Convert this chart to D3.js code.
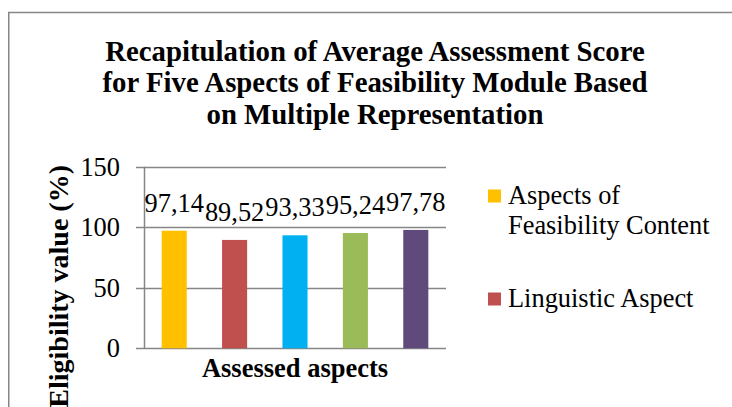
<!DOCTYPE html>
<html>
<head>
<meta charset="utf-8">
<script src="https://cdn.jsdelivr.net/npm/d3@7"></script>
<style>
  body { margin: 0; background: #fff; }
  svg { display: block; }
</style>
</head>
<body>
<script>
// data
var seriesNames = ["Aspects of Feasibility Content", "Linguistic Aspect", "Aspect 3", "Aspect 4", "Aspect 5"];
var seriesValues = [97.14, 89.52, 93.33, 95.24, 97.78];
var seriesColors = ["#FFC000", "#C0504D", "#00B0F0", "#9BBB59", "#604A7B"];
var yTicks = [0, 50, 100, 150];
var titleLines = ["Recapitulation of Average Assessment Score",
                  "for Five Aspects of Feasibility Module Based",
                  "on Multiple Representation"];
// only the first two legend entries fit in the visible area
var legendLines = [["Aspects of", "Feasibility Content"], ["Linguistic Aspect"]];

var W = 732, H = 407;
var font = "Liberation Serif";
var gridColor = "#868686";

var svg = d3.select("body").append("svg")
    .attr("width", W)
    .attr("height", H);

// chart frame, runs off the right and bottom edges
svg.append("rect")
    .attr("x", 8.75).attr("y", 12.5)
    .attr("width", W + 20).attr("height", H + 20)
    .attr("fill", "#fff")
    .attr("stroke", gridColor)
    .attr("stroke-width", 1.5);

// title
svg.append("g").selectAll("text")
    .data(titleLines)
    .enter().append("text")
    .attr("x", 375)
    .attr("y", function (d, i) { return 60.5 + i * 31.5; })
    .attr("text-anchor", "middle")
    .attr("font-family", font)
    .attr("font-weight", "bold")
    .attr("font-size", "28.8px")
    .text(function (d) { return d; });

var plot = { left: 144, right: 446, top: 166.7, bottom: 348.3 };

var x = d3.scaleBand()
    .domain(seriesNames)
    .range([plot.left, plot.right])
    .paddingInner(0.585)
    .paddingOuter(0.2925);

var y = d3.scaleLinear()
    .domain([0, 150])
    .range([plot.bottom, plot.top]);

// gridlines
svg.append("g").selectAll("line")
    .data(yTicks)
    .enter().append("line")
    .attr("x1", plot.left - 8)
    .attr("x2", plot.right)
    .attr("y1", function (d) { return Math.round(y(d)) + 0.5; })
    .attr("y2", function (d) { return Math.round(y(d)) + 0.5; })
    .attr("stroke", gridColor)
    .attr("stroke-width", 1.5);

// y axis labels
var yAxis = d3.axisLeft(y).tickValues(yTicks).tickSize(0).tickPadding(24);
var gy = svg.append("g")
    .attr("transform", "translate(" + plot.left + ",0)")
    .call(yAxis);
gy.select(".domain").remove();
gy.selectAll("text")
    .attr("font-family", font)
    .attr("font-size", "26.4px")
    .attr("fill", "#000")
    .attr("dy", "0.32em");

// bars
svg.append("g").selectAll("rect")
    .data(seriesValues)
    .enter().append("rect")
    .attr("x", function (d, i) { return x(seriesNames[i]); })
    .attr("y", function (d) { return y(d); })
    .attr("width", x.bandwidth())
    .attr("height", function (d) { return y(0) - y(d); })
    .attr("fill", function (d, i) { return seriesColors[i]; });

// vertical axis line
svg.append("line")
    .attr("x1", plot.left + 0.5).attr("x2", plot.left + 0.5)
    .attr("y1", plot.top).attr("y2", plot.bottom)
    .attr("stroke", gridColor)
    .attr("stroke-width", 1.5);

// value labels
var fmt = function (v) { return d3.format(".2f")(v).replace(".", ","); };
svg.append("g").selectAll("text")
    .data(seriesValues)
    .enter().append("text")
    .attr("x", function (d, i) { return x(seriesNames[i]) + x.bandwidth() / 2; })
    .attr("y", function (d) { return y(d) - 19; })
    .attr("text-anchor", "middle")
    .attr("font-family", font)
    .attr("font-size", "26.4px")
    .text(fmt);

// axis titles
svg.append("text")
    .attr("x", (plot.left + plot.right) / 2)
    .attr("y", 377)
    .attr("text-anchor", "middle")
    .attr("font-family", font)
    .attr("font-weight", "bold")
    .attr("font-size", "26.5px")
    .text("Assessed aspects");

svg.append("text")
    .attr("transform", "translate(68,165) rotate(-90)")
    .attr("text-anchor", "end")
    .attr("font-family", font)
    .attr("font-weight", "bold")
    .attr("font-size", "28px")
    .text("Eligibility value (%)");

// legend
var legend = svg.append("g").selectAll("g")
    .data(legendLines)
    .enter().append("g")
    .attr("transform", function (d, i) { return "translate(488," + (189.5 + i * 103) + ")"; });

legend.append("rect")
    .attr("width", 13).attr("height", 13)
    .attr("fill", function (d, i) { return seriesColors[i]; });

legend.selectAll("text")
    .data(function (d) { return d; })
    .enter().append("text")
    .attr("x", 20)
    .attr("y", function (d, j) { return 14 + j * 30.5; })
    .attr("font-family", font)
    .attr("font-size", "26.4px")
    .text(function (d) { return d; });
</script>
</body>
</html>
